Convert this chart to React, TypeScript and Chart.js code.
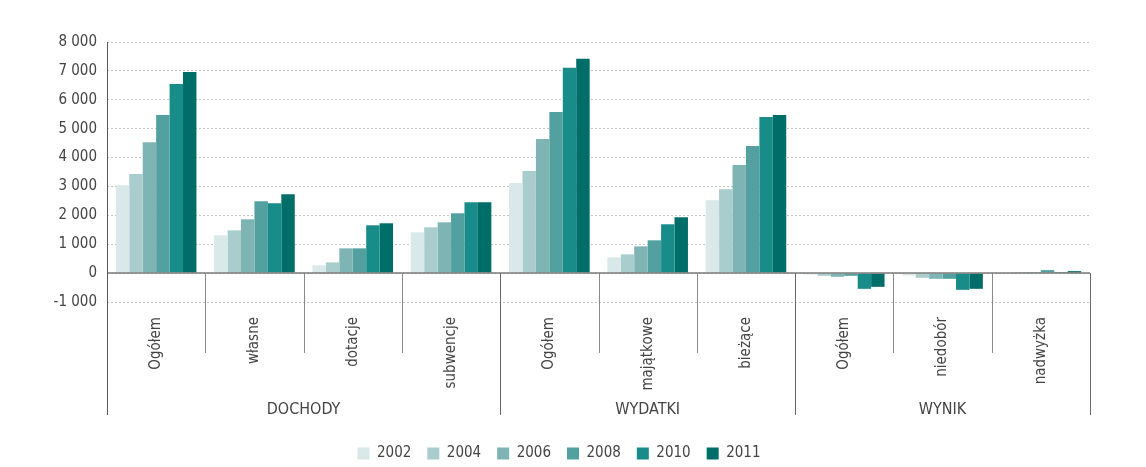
import React, { useEffect, useRef } from "react";
import { Chart, registerables } from "chart.js";

Chart.register(...registerables);

const categories = ["Ogółem", "własne", "dotacje", "subwencje", "Ogółem", "majątkowe", "bieżące", "Ogółem", "niedobór", "nadwyżka"];
const groupNames = ["DOCHODY", "WYDATKI", "WYNIK"];
const groupStarts = [0, 4, 7];
const groupEnds = [4, 7, 10];

const years = ["2002", "2004", "2006", "2008", "2010", "2011"];
const v2002 = [3045, 1307, 267, 1411, 3115, 545, 2524, -46, -81, 15];
const v2004 = [3427, 1480, 371, 1585, 3531, 649, 2906, -93, -162, 35];
const v2006 = [4531, 1862, 857, 1758, 4641, 927, 3740, -127, -197, 35];
const v2008 = [5469, 2488, 857, 2071, 5580, 1135, 4400, -93, -197, 104];
const v2010 = [6545, 2419, 1655, 2454, 7107, 1690, 5405, -544, -579, 35];
const v2011 = [6962, 2731, 1725, 2454, 7420, 1933, 5474, -475, -544, 69];
const seriesValues = [v2002, v2004, v2006, v2008, v2010, v2011];
const colors = ["#d9e8e8", "#a9cdcd", "#7eb4b3", "#52a0a0", "#188c89", "#006e68"];

const yMin = -1000;
const yMax = 8000;
const yStep = 1000;

const FONT = "'Liberation Sans Narrow', 'DejaVu Sans Condensed', 'Arial Narrow', sans-serif";

const fmt = (v: number) => {
  const s = Math.abs(v).toString().replace(/\B(?=(\d{3})+(?!\d))/g, " ");
  return (v < 0 ? "-" : "") + s;
};

const decorPlugin = {
  id: "decor",
  afterDatasetsDraw(chart: any) {
    const { ctx, chartArea, scales } = chart;
    const y = scales.y;
    const zeroY = y.getPixelForValue(0);
    const n = categories.length;
    const w = (chartArea.right - chartArea.left) / n;
    const sepBottom = 353;
    const groupBottom = 415;
    ctx.save();
    ctx.strokeStyle = "#7a7a7a";
    ctx.lineWidth = 1.5;
    ctx.beginPath();
    ctx.moveTo(chartArea.left, zeroY);
    ctx.lineTo(chartArea.right, zeroY);
    ctx.stroke();
    ctx.strokeStyle = "#5a5a5a";
    ctx.lineWidth = 1;
    ctx.beginPath();
    ctx.moveTo(Math.round(chartArea.left) + 0.5, chartArea.top);
    ctx.lineTo(Math.round(chartArea.left) + 0.5, groupBottom);
    ctx.stroke();
    for (let i = 1; i <= n; i++) {
      const xp = Math.round(chartArea.left + i * w) + 0.5;
      const isGroup = groupEnds.includes(i);
      ctx.strokeStyle = isGroup ? "#6a6a6a" : "#8a8a8a";
      ctx.beginPath();
      ctx.moveTo(xp, zeroY);
      ctx.lineTo(xp, isGroup ? groupBottom : sepBottom);
      ctx.stroke();
    }
    ctx.fillStyle = "#444";
    ctx.font = `16px ${FONT}`;
    ctx.textAlign = "center";
    ctx.textBaseline = "middle";
    groupNames.forEach((g, gi) => {
      const cx = chartArea.left + ((groupStarts[gi] + groupEnds[gi]) / 2) * w;
      ctx.fillText(g, cx, 410);
    });
    ctx.restore();
  },
};

export default function App() {
  const ref = useRef<HTMLCanvasElement | null>(null);
  useEffect(() => {
    document.body.style.margin = "0";
    const chart = new Chart(ref.current as HTMLCanvasElement, {
      type: "bar",
      data: {
        labels: categories,
        datasets: years.map((yr, i) => ({
          label: yr,
          data: seriesValues[i],
          backgroundColor: colors[i],
          borderWidth: 0,
          categoryPercentage: 0.82,
          barPercentage: 1,
        })),
      },
      options: {
        animation: false,
        responsive: false,
        maintainAspectRatio: false,
        layout: { padding: { top: 42, right: 56, left: 28, bottom: -4 } },
        plugins: {
          legend: {
            position: "bottom",
            labels: {
              boxWidth: 12,
              boxHeight: 12,
              padding: 16,
              color: "#444",
              font: { family: FONT, size: 15 },
            },
          },
          tooltip: { enabled: false },
        },
        scales: {
          x: {
            grid: { display: false },
            border: { display: false },
            ticks: {
              autoSkip: false,
              minRotation: 90,
              maxRotation: 90,
              padding: 7,
              color: "#444",
              font: { family: FONT, size: 15 },
            },
            afterFit: (s: any) => {
              s.height = 128;
            },
          },
          y: {
            min: yMin,
            max: yMax,
            grid: {
              color: "#c4c4c4",
              lineWidth: 1,
              drawTicks: false,
            },
            border: { display: false, dash: [2, 2] },
            ticks: {
              stepSize: yStep,
              padding: 10,
              color: "#444",
              font: { family: FONT, size: 15 },
              callback: (v: any) => fmt(Number(v)),
            },
            afterFit: (s: any) => {
              s.width = 79;
            },
          },
        },
      },
      plugins: [decorPlugin],
    } as any);
    return () => chart.destroy();
  }, []);
  return (
    <div style={{ width: 1146, height: 467 }}>
      <canvas ref={ref} width={1146} height={467} style={{ display: "block" }} />
    </div>
  );
}
